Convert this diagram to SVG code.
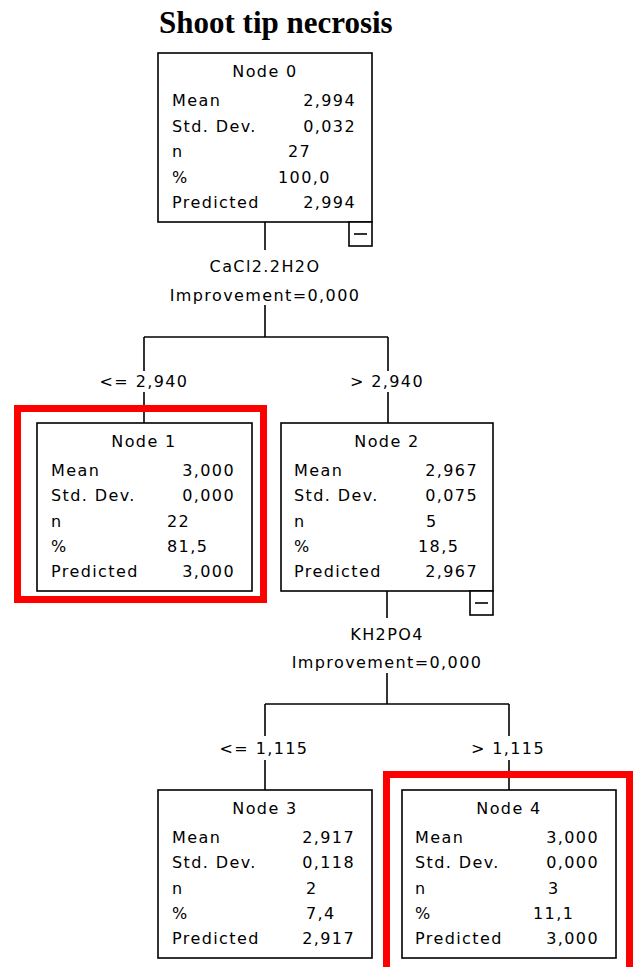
<svg xmlns="http://www.w3.org/2000/svg" width="633" height="967" viewBox="0 0 633 967">
<style>
  .box { fill: #ffffff; stroke: #000000; stroke-width: 1.6; }
  .hl { fill: none; stroke: #ff0000; stroke-width: 7; }
  .ln { stroke: #000000; stroke-width: 1.6; fill: none; }
  .t { font-family: "DejaVu Sans", "Liberation Sans", sans-serif; font-size: 16px; letter-spacing: 1.4px; fill: #000000; }
  .c { text-anchor: middle; }
  .e { text-anchor: end; }
  .title { font-family: "Liberation Serif", "Times New Roman", serif; font-size: 31px; font-weight: bold; fill: #000000; }
</style>
<rect width="633" height="967" fill="#ffffff"/>
<text class="title" x="159" y="33">Shoot tip necrosis</text>

<g id="connectors">
  <line class="ln" x1="265" y1="222" x2="265" y2="250"/>
  <text class="t c" x="265" y="272">CaCl2.2H2O</text>
  <text class="t c" x="265" y="301">Improvement=0,000</text>
  <line class="ln" x1="265" y1="305" x2="265" y2="337"/>
  <line class="ln" x1="144" y1="337" x2="388" y2="337"/>
  <line class="ln" x1="144" y1="337" x2="144" y2="371"/>
  <text class="t c" x="144" y="387">&lt;= 2,940</text>
  <line class="ln" x1="144" y1="392" x2="144" y2="423"/>
  <line class="ln" x1="388" y1="337" x2="388" y2="371"/>
  <text class="t c" x="387" y="387">&gt; 2,940</text>
  <line class="ln" x1="388" y1="392" x2="388" y2="423"/>

  <line class="ln" x1="387" y1="591" x2="387" y2="618"/>
  <text class="t c" x="387" y="640">KH2PO4</text>
  <text class="t c" x="387" y="668">Improvement=0,000</text>
  <line class="ln" x1="387" y1="673" x2="387" y2="704"/>
  <line class="ln" x1="265" y1="704" x2="509" y2="704"/>
  <line class="ln" x1="265" y1="704" x2="265" y2="736"/>
  <text class="t c" x="264" y="754">&lt;= 1,115</text>
  <line class="ln" x1="265" y1="760" x2="265" y2="790"/>
  <line class="ln" x1="509" y1="704" x2="509" y2="736"/>
  <text class="t c" x="508" y="754">&gt; 1,115</text>
  <line class="ln" x1="509" y1="760" x2="509" y2="790"/>
</g>

<g id="node0">
  <rect class="box" x="158" y="53" width="214" height="169"/>
  <rect class="box" x="349" y="222" width="23" height="24"/>
  <line class="ln" x1="354" y1="234" x2="367" y2="234"/>
  <text class="t c" x="265" y="77">Node 0</text>
  <text class="t" x="172" y="106">Mean</text><text class="t e" x="356" y="106">2,994</text>
  <text class="t" x="172" y="132">Std. Dev.</text><text class="t e" x="356" y="132">0,032</text>
  <text class="t" x="172" y="157">n</text><text class="t" x="288" y="157">27</text>
  <text class="t" x="172" y="183">%</text><text class="t" x="278" y="183">100,0</text>
  <text class="t" x="172" y="208">Predicted</text><text class="t e" x="356" y="208">2,994</text>
</g>

<g id="node1">
  <rect class="hl" x="17.5" y="408.5" width="246" height="191"/>
  <rect class="box" x="37" y="423" width="215" height="168"/>
  <text class="t c" x="144" y="447">Node 1</text>
  <text class="t" x="51" y="476">Mean</text><text class="t e" x="235" y="476">3,000</text>
  <text class="t" x="51" y="501">Std. Dev.</text><text class="t e" x="235" y="501">0,000</text>
  <text class="t" x="51" y="527">n</text><text class="t" x="167" y="527">22</text>
  <text class="t" x="51" y="552">%</text><text class="t" x="167" y="552">81,5</text>
  <text class="t" x="51" y="577">Predicted</text><text class="t e" x="235" y="577">3,000</text>
</g>

<g id="node2">
  <rect class="box" x="281" y="423" width="212" height="168"/>
  <rect class="box" x="470" y="591" width="23" height="24"/>
  <line class="ln" x1="475" y1="603" x2="488" y2="603"/>
  <text class="t c" x="387" y="447">Node 2</text>
  <text class="t" x="294" y="476">Mean</text><text class="t e" x="478" y="476">2,967</text>
  <text class="t" x="294" y="501">Std. Dev.</text><text class="t e" x="478" y="501">0,075</text>
  <text class="t" x="294" y="527">n</text><text class="t" x="426" y="527">5</text>
  <text class="t" x="294" y="552">%</text><text class="t" x="418" y="552">18,5</text>
  <text class="t" x="294" y="577">Predicted</text><text class="t e" x="478" y="577">2,967</text>
</g>

<g id="node3">
  <rect class="box" x="158" y="790" width="214" height="168"/>
  <text class="t c" x="265" y="814">Node 3</text>
  <text class="t" x="172" y="843">Mean</text><text class="t e" x="355" y="843">2,917</text>
  <text class="t" x="172" y="868">Std. Dev.</text><text class="t e" x="355" y="868">0,118</text>
  <text class="t" x="172" y="894">n</text><text class="t" x="306" y="894">2</text>
  <text class="t" x="172" y="919">%</text><text class="t" x="306" y="919">7,4</text>
  <text class="t" x="172" y="944">Predicted</text><text class="t e" x="355" y="944">2,917</text>
</g>

<g id="node4">
  <rect class="hl" x="386.5" y="774.5" width="243" height="210"/>
  <rect class="box" x="402" y="790" width="214" height="168"/>
  <text class="t c" x="509" y="814">Node 4</text>
  <text class="t" x="415" y="843">Mean</text><text class="t e" x="599" y="843">3,000</text>
  <text class="t" x="415" y="868">Std. Dev.</text><text class="t e" x="599" y="868">0,000</text>
  <text class="t" x="415" y="894">n</text><text class="t" x="548" y="894">3</text>
  <text class="t" x="415" y="919">%</text><text class="t" x="533" y="919">11,1</text>
  <text class="t" x="415" y="944">Predicted</text><text class="t e" x="599" y="944">3,000</text>
</g>
</svg>
